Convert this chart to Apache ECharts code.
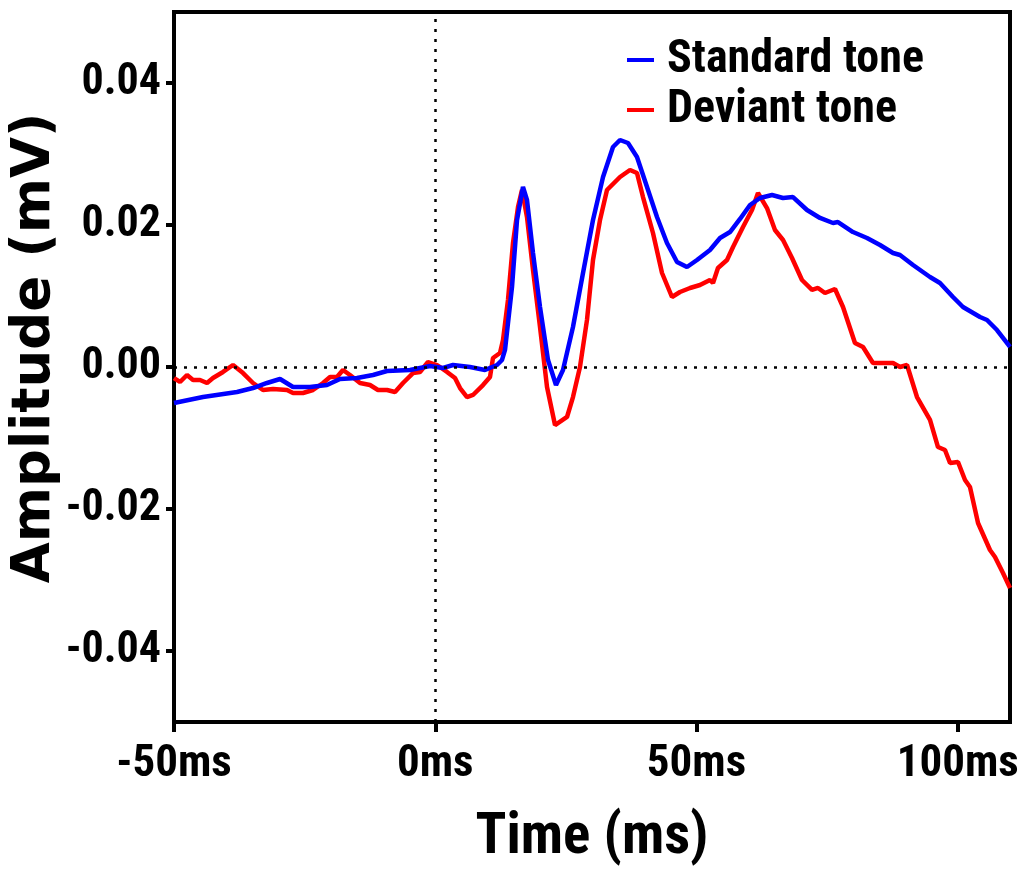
<!DOCTYPE html>
<html>
<head>
<meta charset="utf-8">
<title>ERP waveforms</title>
<script src="https://cdn.jsdelivr.net/npm/echarts@6/dist/echarts.min.js"></script>
<style>
  html, body { margin: 0; padding: 0; background: #fff; }
  #chart { width: 1024px; height: 873px; }
</style>
</head>
<body>
<div id="chart"></div>
<script>
// Time axis (ms) and amplitude (mV) samples for each averaged waveform
const stdTime = [-50, -44.45, -37.94, -34.88, -32.2, -29.71, -27.22, -23.97, -20.72, -18.23, -14.98, -11.91, -9.23, -4.83, -1.0, 1.48, 3.4, 6.65, 9.52, 11.82, 12.78, 13.35, 14.69, 15.65, 16.79, 17.56, 18.71, 20.05, 21.58, 23.11, 24.45, 26.36, 28.28, 30.19, 32.11, 34.02, 35.36, 36.89, 38.61, 40.53, 42.44, 44.35, 46.27, 48.18, 50.1, 52.58, 54.5, 56.41, 58.33, 60.24, 62.15, 64.45, 66.56, 68.47, 71.15, 73.64, 76.12, 77.08, 79.95, 82.63, 85.12, 87.61, 88.95, 91.44, 94.69, 96.6, 99.09, 101.0, 104.26, 105.6, 107.51, 110];
const stdAmp = [-0.00507, -0.00423, -0.00352, -0.00296, -0.00225, -0.00169, -0.00282, -0.00282, -0.00254, -0.00169, -0.00155, -0.00113, -0.00056, -0.00042, 0.00014, -0.00014, 0.00028, 0, -0.00042, 0.00028, 0.00099, 0.0024, 0.01127, 0.0207, 0.02535, 0.02352, 0.01606, 0.00845, 0.00099, -0.00254, -0.00042, 0.00563, 0.01324, 0.0207, 0.02676, 0.03099, 0.03197, 0.03155, 0.02958, 0.02535, 0.02113, 0.01746, 0.01479, 0.01408, 0.01507, 0.01648, 0.01817, 0.01901, 0.02085, 0.02282, 0.0238, 0.02423, 0.0238, 0.02394, 0.02211, 0.02099, 0.02028, 0.02042, 0.01901, 0.01817, 0.01718, 0.01606, 0.01577, 0.01437, 0.01268, 0.01183, 0.00986, 0.00845, 0.00704, 0.00662, 0.00521, 0.00282];

const devTime = [-50, -48.85, -47.51, -46.36, -45.02, -43.68, -42.54, -40.62, -38.71, -36.79, -34.88, -32.97, -31.05, -28.37, -27.22, -25.31, -23.4, -21.48, -20.14, -18.8, -17.66, -16.32, -14.4, -12.49, -10.96, -9.23, -7.7, -6.17, -4.26, -2.92, -1.39, 0.33, 2.25, 3.78, 4.74, 6.08, 7.22, 9.14, 10.48, 11.05, 12.39, 12.97, 13.92, 14.88, 15.84, 16.6, 17.56, 18.71, 20.05, 21.39, 22.92, 25.22, 26.36, 27.7, 29.04, 30.19, 31.53, 32.87, 35.36, 37.27, 38.61, 39.76, 41.67, 43.4, 45.31, 46.84, 48.76, 50.67, 52.58, 53.16, 54.11, 55.84, 56.99, 58.9, 60.62, 61.77, 63.49, 65.02, 66.56, 68.28, 70.19, 72.11, 73.25, 74.59, 76.51, 78.04, 80.33, 81.87, 83.78, 86.46, 87.61, 88.95, 90.29, 92.2, 94.69, 96.22, 97.56, 98.52, 100.05, 101.39, 102.34, 103.88, 106.17, 107.13, 108.66, 110];
const devAmp = [-0.00155, -0.00211, -0.00113, -0.00183, -0.00183, -0.00225, -0.00155, -0.0007, 0.00028, -0.00085, -0.00225, -0.00324, -0.0031, -0.00324, -0.00366, -0.00366, -0.00324, -0.00225, -0.00141, -0.00141, -0.00042, -0.00113, -0.00225, -0.00254, -0.00324, -0.00324, -0.00352, -0.00225, -0.00085, -0.0007, 0.0007, 0.00028, -0.0007, -0.00155, -0.00296, -0.00423, -0.00394, -0.00254, -0.00141, 0.00127, 0.00197, 0.0038, 0.00944, 0.01746, 0.02254, 0.02493, 0.02113, 0.01366, 0.00563, -0.00282, -0.00817, -0.00704, -0.00423, 0, 0.00662, 0.01507, 0.0207, 0.02493, 0.02676, 0.02775, 0.02732, 0.02394, 0.01887, 0.01324, 0.00986, 0.01056, 0.01113, 0.01155, 0.01225, 0.01183, 0.01394, 0.01507, 0.0169, 0.01972, 0.02211, 0.02451, 0.02239, 0.0193, 0.01789, 0.01535, 0.01225, 0.01085, 0.01113, 0.01042, 0.01099, 0.00845, 0.00338, 0.00282, 0.00056, 0.00056, 0.00056, 0, 0.00028, -0.00423, -0.00746, -0.01127, -0.01169, -0.01352, -0.01338, -0.01592, -0.0169, -0.02197, -0.02577, -0.02676, -0.02901, -0.03113];

const seriesNames = ['Standard tone', 'Deviant tone'];
const xTicks = [-50, 0, 50, 100];
const yTicks = [-0.04, -0.02, 0, 0.02, 0.04];

// Condensed bold face for ticks, legend and the time axis title
const narrowFamily = 'Roboto, "Liberation Sans", sans-serif';
const narrowWeight = 'bold condensed';
const pairs = (xs, ys) => xs.map((x, i) => [x, ys[i]]);

const chart = echarts.init(document.getElementById('chart'), null, { renderer: 'canvas' });

chart.setOption({
  animation: false,
  backgroundColor: '#ffffff',
  grid: {
    left: 174, right: 14, top: 12, bottom: 151,
    outerBoundsMode: 'none',
    containLabel: false,
    show: true, borderColor: '#000', borderWidth: 4, backgroundColor: 'transparent'
  },
  legend: {
    data: seriesNames,
    orient: 'vertical',
    left: 622, top: 32,
    itemWidth: 27, itemHeight: 4, itemGap: 4,
    icon: 'rect',
    textStyle: { fontFamily: narrowFamily, fontWeight: narrowWeight, fontSize: 46, lineHeight: 46, color: '#000', padding: [0, 0, 0, 8] }
  },
  xAxis: {
    type: 'value',
    min: -50, max: 110, interval: 50,
    splitLine: { show: false },
    axisLine: { show: true, onZero: false, lineStyle: { color: '#000', width: 4 } },
    axisTick: { show: true, length: 10, lineStyle: { color: '#000', width: 4 }, customValues: xTicks },
    axisLabel: {
      customValues: xTicks,
      formatter: v => v + 'ms',
      margin: 20,
      fontFamily: narrowFamily, fontWeight: narrowWeight, fontSize: 45, color: '#000'
    },
    name: 'Time (ms)',
    nameLocation: 'middle',
    nameGap: 88,
    nameTextStyle: { fontFamily: narrowFamily, fontWeight: narrowWeight, fontSize: 57, color: '#000' }
  },
  yAxis: {
    type: 'value',
    min: -0.05, max: 0.05,
    splitLine: { show: false },
    axisLine: { show: true, onZero: false, lineStyle: { color: '#000', width: 4 } },
    axisTick: { show: true, length: 8, lineStyle: { color: '#000', width: 4 }, customValues: yTicks },
    axisLabel: {
      customValues: yTicks,
      formatter: v => v.toFixed(2),
      margin: 13,
      fontFamily: narrowFamily, fontWeight: narrowWeight, fontSize: 44, color: '#000'
    },
    name: 'Amplitude (mV)',
    nameLocation: 'middle',
    nameGap: 112,
    nameMoveOverlap: false,
    nameRotate: 90,
    nameTextStyle: { fontFamily: '"DejaVu Sans", sans-serif', fontWeight: 'bold', fontSize: 53, color: '#000', padding: [0, 0, 0, 38] }
  },
  series: [
    {
      name: seriesNames[1],
      type: 'line',
      data: pairs(devTime, devAmp),
      showSymbol: false,
      color: '#ff0000',
      lineStyle: { color: '#ff0000', width: 4.5 },
      z: 2,
      markLine: {
        silent: true,
        symbol: 'none',
        label: { show: false },
        lineStyle: { color: '#000', type: [3, 7], width: 2.5 },
        data: [{ yAxis: 0 }, { xAxis: 0 }]
      }
    },
    {
      name: seriesNames[0],
      type: 'line',
      data: pairs(stdTime, stdAmp),
      showSymbol: false,
      color: '#0000ff',
      lineStyle: { color: '#0000ff', width: 4.5 },
      z: 3
    }
  ]
});
</script>
</body>
</html>
